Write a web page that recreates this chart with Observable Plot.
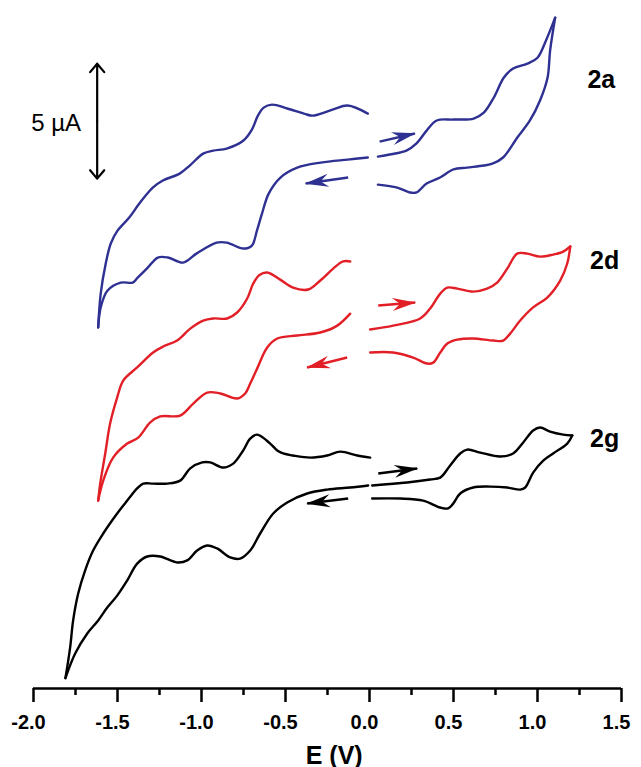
<!DOCTYPE html>
<html><head><meta charset="utf-8">
<script src="https://cdn.jsdelivr.net/npm/d3@7"></script>
<script src="https://cdn.jsdelivr.net/npm/@observablehq/plot@0.6"></script>
<style>body{margin:0;background:#fff}</style>
</head><body><div id="chart"></div>
<script>
// ---- axis ----
const xTicks = [-2, -1.5, -1, -0.5, 0, 0.5, 1, 1.5];
const xMinorTicks = [-1.75, -1.25, -0.75, -0.25, 0.25, 0.75, 1.25];
const xTitle = ["E (V)"];
const xTitlePos = [-0.21];

// ---- series ----
const seriesNames = ["2a", "2d", "2g"];
const seriesColors = ["#2e3192", "#e21f26", "#000000"];
const seriesLabelE = [1.38, 1.40, 1.40];
const seriesLabelI = [26.48, 18.61, 10.87];

// 2a  [E (V), I (µA, offset)]
const a_leftUpper = [[-0.01,25.00],[-0.13,25.35],[-0.22,25.17],[-0.34,24.91],[-0.39,25.00],[-0.49,25.22],[-0.58,25.39],[-0.63,25.26],[-0.665,24.90],[-0.70,24.30],[-0.75,23.83],[-0.85,23.48],[-0.93,23.39],[-0.99,23.26],[-1.07,22.74],[-1.13,22.39],[-1.23,22.09],[-1.29,21.78],[-1.37,21.09],[-1.43,20.48],[-1.50,19.91],[-1.54,19.35],[-1.57,18.48],[-1.60,17.17],[-1.615,15.70]];
const a_leftLower = [[-1.615,15.70],[-1.60,16.57],[-1.56,17.30],[-1.48,17.65],[-1.41,17.65],[-1.38,17.87],[-1.32,18.30],[-1.26,18.74],[-1.20,18.74],[-1.11,18.52],[-1.03,18.91],[-0.91,19.39],[-0.85,19.39],[-0.75,19.13],[-0.70,19.26],[-0.67,19.91],[-0.64,20.65],[-0.60,21.52],[-0.53,22.22],[-0.43,22.65],[-0.29,22.87],[-0.13,23.00],[-0.01,23.09]];
const a_rightUpper = [[0.05,23.13],[0.12,23.22],[0.22,23.39],[0.28,23.70],[0.34,24.26],[0.40,24.70],[0.50,24.74],[0.62,24.78],[0.68,25.04],[0.74,25.70],[0.80,26.57],[0.855,26.96],[0.94,27.17],[1.00,27.43],[1.05,28.17],[1.105,29.17]];
const a_rightLower = [[1.105,29.17],[1.075,27.74],[1.06,26.57],[1.015,25.57],[0.955,24.70],[0.88,23.96],[0.795,23.09],[0.735,22.83],[0.68,22.74],[0.58,22.65],[0.50,22.57],[0.42,22.22],[0.34,21.96],[0.28,21.57],[0.24,21.57],[0.165,21.78],[0.05,21.91]];
const a_arrows = [[0.06,23.78,0.27,24.13],[-0.127,22.22,-0.38,21.96]];

// 2d
const d_leftUpper = [[-0.115,18.57],[-0.157,18.57],[-0.216,18.26],[-0.293,17.74],[-0.365,17.35],[-0.455,17.43],[-0.532,17.78],[-0.609,18.09],[-0.655,17.98],[-0.692,17.61],[-0.728,16.96],[-0.788,16.35],[-0.847,16.09],[-0.931,16.09],[-0.99,16.00],[-1.067,15.65],[-1.145,15.13],[-1.228,14.87],[-1.288,14.61],[-1.383,13.96],[-1.466,13.39],[-1.502,12.65],[-1.544,11.52],[-1.573,10.22],[-1.603,8.91],[-1.615,8.17]];
const d_leftLower = [[-1.615,8.17],[-1.585,9.04],[-1.526,10.04],[-1.442,10.65],[-1.377,10.91],[-1.305,11.57],[-1.246,11.83],[-1.127,11.87],[-1.049,12.39],[-0.966,12.87],[-0.889,12.83],[-0.788,12.61],[-0.74,12.83],[-0.71,13.26],[-0.669,13.91],[-0.609,14.83],[-0.549,15.22],[-0.43,15.35],[-0.293,15.48],[-0.192,15.78],[-0.115,16.30]];
const d_rightUpper = [[0.004,15.61],[0.141,15.78],[0.302,16.09],[0.361,16.52],[0.421,17.17],[0.463,17.43],[0.522,17.39],[0.617,17.26],[0.70,17.39],[0.76,17.65],[0.82,18.26],[0.879,18.91],[0.939,18.91],[1.016,18.78],[1.093,18.87],[1.153,19.00],[1.195,19.22]];
const d_rightLower = [[1.195,19.22],[1.177,18.48],[1.135,17.74],[1.058,17.00],[0.974,16.57],[0.897,16.00],[0.837,15.43],[0.796,15.13],[0.736,15.13],[0.617,15.22],[0.522,15.17],[0.463,15.00],[0.421,14.61],[0.379,14.17],[0.343,14.13],[0.26,14.39],[0.141,14.61],[0.004,14.61]];
const d_arrows = [[0.052,16.65,0.272,16.78],[-0.133,14.39,-0.371,13.96]];

// 2g
const g_leftUpper = [[0.004,10.04],[-0.073,10.13],[-0.174,10.30],[-0.252,10.13],[-0.353,10.04],[-0.455,10.13],[-0.514,10.22],[-0.549,10.35],[-0.591,10.65],[-0.669,11.04],[-0.71,10.87],[-0.752,10.35],[-0.811,9.78],[-0.871,9.61],[-0.948,9.83],[-0.996,9.83],[-1.067,9.57],[-1.127,9.04],[-1.204,8.91],[-1.288,8.91],[-1.347,8.91],[-1.383,8.70],[-1.442,8.17],[-1.502,7.61],[-1.585,6.74],[-1.645,6.00],[-1.693,5.13],[-1.734,4.13],[-1.764,2.96],[-1.782,1.78],[-1.81,0.45]];
const g_leftLower = [[-1.81,0.45],[-1.752,1.52],[-1.68,2.39],[-1.615,2.96],[-1.561,3.52],[-1.502,4.04],[-1.442,4.70],[-1.383,5.43],[-1.323,5.74],[-1.246,5.74],[-1.145,5.48],[-1.085,5.57],[-1.026,6.00],[-0.966,6.22],[-0.907,6.09],[-0.829,5.70],[-0.77,5.65],[-0.71,6.00],[-0.651,6.74],[-0.573,7.61],[-0.49,8.09],[-0.371,8.48],[-0.252,8.65],[-0.115,8.74],[-0.008,8.83]];
const g_rightUpper = [[0.016,8.83],[0.224,8.96],[0.361,9.09],[0.421,9.17],[0.48,9.70],[0.54,10.22],[0.581,10.39],[0.659,10.26],[0.778,10.09],[0.855,10.22],[0.915,10.70],[0.974,11.22],[1.016,11.35],[1.075,11.17],[1.153,11.04],[1.207,11.00]];
const g_rightLower = [[1.207,11.00],[1.177,10.65],[1.093,10.22],[1.034,9.91],[0.974,9.39],[0.927,8.74],[0.897,8.65],[0.82,8.74],[0.718,8.78],[0.617,8.74],[0.54,8.48],[0.498,8.04],[0.468,7.83],[0.421,7.87],[0.319,8.17],[0.183,8.26],[0.016,8.26]];
const g_arrows = [[0.052,9.35,0.284,9.57],[-0.127,8.26,-0.371,8.04]];

// scale bar (5 µA)
const scaleBarE = [-1.621];
const scaleBarI = [22.17, 27.17];
const scaleBarText = ["5 µA"];
const scaleBarTextPos = [-1.865, 24.57];

// ---- layout ----
const W = 641, H = 767, mL = 33, mR = 20, mT = 5, mB = 79;
const xDom = [-2, 1.5], yDom = [0, 29.7];
const kx = (W - mL - mR) / (xDom[1] - xDom[0]);
const ky = (H - mT - mB) / (yDom[1] - yDom[0]);

const segs = [
  [a_leftUpper, a_leftLower, a_rightUpper, a_rightLower],
  [d_leftUpper, d_leftLower, d_rightUpper, d_rightLower],
  [g_leftUpper, g_leftLower, g_rightUpper, g_rightLower]
];
const arrowSets = [a_arrows, d_arrows, g_arrows];

const arrowHead = {
  draw(ctx) {
    ctx.moveTo(1, 0);
    ctx.lineTo(-23, -6.5);
    ctx.lineTo(-15, 0);
    ctx.lineTo(-23, 6.5);
    ctx.closePath();
  }
};

const marks = [];
seriesNames.forEach((name, i) => {
  const color = seriesColors[i];
  const rows = [];
  segs[i].forEach((seg, j) => seg.forEach(([E, I]) => rows.push({E, I, seg: j})));
  marks.push(Plot.line(rows, {x: "E", y: "I", z: "seg", stroke: color, strokeWidth: 2.4, curve: "catmull-rom"}));
  const arr = arrowSets[i].map(([x1, y1, x2, y2]) => ({x1, y1, x2, y2,
    angle: Math.atan2(-(y2 - y1) * ky, (x2 - x1) * kx) * 180 / Math.PI}));
  marks.push(Plot.link(arr, {x1: "x1", y1: "y1", x2: "x2", y2: "y2", stroke: color, strokeWidth: 2.5}));
  marks.push(Plot.dot(arr, {x: "x2", y: "y2", symbol: arrowHead, rotate: "angle", fill: color, stroke: "none"}));
  marks.push(Plot.text([name], {x: seriesLabelE[i], y: seriesLabelI[i], text: d => d, fontSize: 25, fontWeight: "bold", fill: "#000"}));
});

const mid = (scaleBarI[0] + scaleBarI[1]) / 2;
marks.push(Plot.arrow([scaleBarI[0], scaleBarI[1]], {x1: scaleBarE[0], x2: scaleBarE[0], y1: () => mid, y2: d => d,
  stroke: "#000", strokeWidth: 2.2, headLength: 7.5, headAngle: 80}));
marks.push(Plot.text(scaleBarText, {x: scaleBarTextPos[0], y: scaleBarTextPos[1], text: d => d, fontSize: 24, fill: "#000"}));

marks.push(Plot.ruleY([0], {stroke: "#000", strokeWidth: 2.5}));
marks.push(Plot.axisX({ticks: xTicks, tickSize: 14, strokeWidth: 2.5, label: null, tickFormat: () => "", color: "#000"}));
marks.push(Plot.axisX({ticks: xMinorTicks, tickSize: 7, strokeWidth: 2.5, label: null, tickFormat: () => "", color: "#000"}));
marks.push(Plot.text(xTicks, {x: d => d, frameAnchor: "bottom", dy: 40, dx: -5, text: d => d.toFixed(1),
  fontSize: 20, fontWeight: "bold", fill: "#000"}));
marks.push(Plot.text(xTitle, {x: xTitlePos[0], frameAnchor: "bottom", dy: 75, text: d => d, fontSize: 25, fontWeight: "bold", fill: "#000"}));

const chart = Plot.plot({
  width: W, height: H,
  marginLeft: mL, marginRight: mR, marginTop: mT, marginBottom: mB,
  style: {fontFamily: "'Liberation Sans', Arial, sans-serif", background: "#fff", color: "#000"},
  x: {domain: xDom},
  y: {domain: yDom, axis: null},
  marks
});
document.getElementById("chart").append(chart);
</script>
</body></html>
